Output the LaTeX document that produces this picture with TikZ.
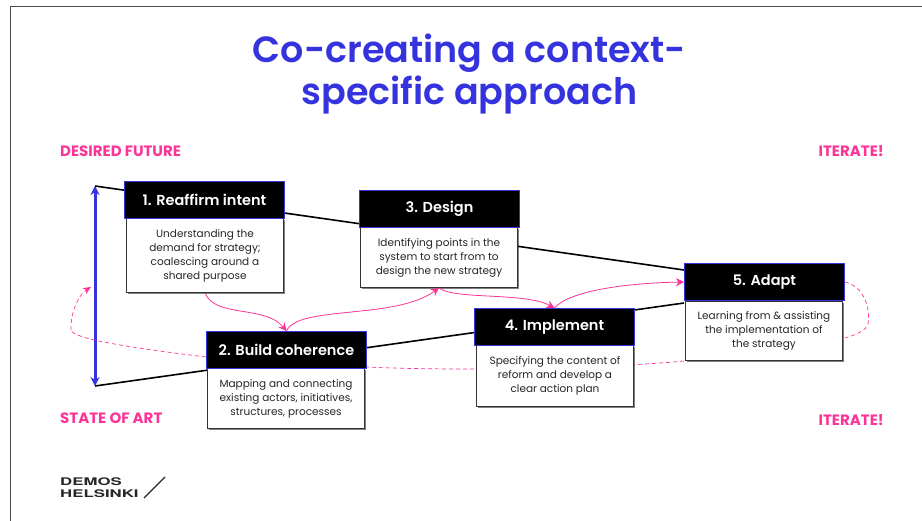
\documentclass[tikz,border=0pt]{standalone}
\usepackage{fontspec}
\setmainfont{Poppins}[BoldFont={Poppins SemiBold}]
\newfontfamily\logofont[FakeStretch=1.6]{TeX Gyre Heros}
\newfontfamily\tagfont{Poppins}[UprightFont={* Bold}]
\usetikzlibrary{arrows.meta,shadows,calc}
\definecolor{tblue}{HTML}{3533DD}
\definecolor{tpink}{HTML}{FB3497}
\tikzset{
  x=1pt,y=-1pt,
  head/.style={draw=tblue,line width=1pt,fill=black,text=white,minimum width=160pt,minimum height=37pt,inner sep=0pt,font=\fontsize{14.5}{17}\selectfont\bfseries,anchor=north west},
  body/.style={draw=black!80,line width=1pt,fill=white,text=black!85,minimum width=157pt,inner sep=0pt,align=center,font=\fontsize{10.5}{14}\selectfont,anchor=north west,drop shadow={shadow xshift=1pt,shadow yshift=-1.5pt,opacity=.5,fill=black}},
  tag/.style={text=tpink,font=\tagfont\fontsize{15}{17}\selectfont,inner sep=0pt},
  flow/.style={draw=tpink,line width=.8pt,-{Stealth[length=8pt,width=8pt]}},
  loopline/.style={draw=tpink,line width=.7pt,dash pattern=on 4pt off 3pt},
  spine/.style={draw=black,line width=1.6pt},
}
\begin{document}
\begin{tikzpicture}
\useasboundingbox (0,0) rectangle (922,521);
\fill[white] (0,0) rectangle (922,521);
\coordinate (tl) at (10,7); \coordinate (tr) at (922,7); \coordinate (bl) at (10,521);
\draw[black!70,line width=1pt] (bl) -- (tl) -- (tr);
\node[text=tblue,align=center,inner sep=0pt,font=\fontsize{36.5}{42.5}\selectfont\bfseries] (title) at (469.5,74) {Co-creating a context-\\specific approach};
\node[tag,anchor=west] (df) at (60,151) {DESIRED FUTURE};
\node[tag,anchor=west] (sa) at (60,418) {STATE OF ART};
\node[tag,anchor=east] (it1) at (884,151) {ITERATE!};
\node[tag,anchor=east] (it2) at (884,420) {ITERATE!};
\coordinate (top) at (95,186);
\coordinate (bot) at (95,386);
\coordinate (endT) at (684,270);
\coordinate (endB) at (684,303);
\draw[spine] (top) -- (endT);
\draw[spine] (bot) -- (endB);
\draw[tblue,line width=3pt,{Stealth[length=9pt,width=9pt]}-{Stealth[length=9pt,width=9pt]}] (top) -- (bot);
% dashed loops, under the boxes
\coordinate (d1) at (845,282); \coordinate (d2) at (868,324); \coordinate (d3) at (845,338);
\coordinate (d4) at (684,361); \coordinate (d5) at (206,357); \coordinate (d6) at (71,330); \coordinate (d7) at (91,287);
\draw[loopline] (d1) .. controls (862,286) and (871,305) .. (d2) .. controls (866,331) and (855,335) .. (d3);
\draw[loopline] (d4) .. controls (600,369) and (450,371) .. (366,367);
\draw[loopline] (d5) .. controls (150,350) and (72,340) .. (d6);
\draw[loopline,-{Stealth[length=8pt,width=7pt]}] (d6) .. controls (70,315) and (78,295) .. (d7);
\foreach \n/\x/\y/\bx/\by/\bh/\hh/\bt in {
 1/124/181/126/218/74/{1. Reaffirm intent}/{Understanding the\\demand for strategy;\\coalescing around a\\shared purpose},
 2/206/331/207/368/60/{2. Build coherence}/{Mapping and connecting\\existing actors, initiatives,\\structures, processes},
 3/359/190/360/227/60/{3. Design}/{Identifying points in the\\system to start from to\\design the new strategy},
 4/474/308/476/345/61/{4. Implement}/{Specifying the content of\\reform and develop a\\clear action plan},
 5/684/263/685/301/59/{5. Adapt}/{Learning from \& assisting\\the implementation of\\the strategy}}{
  \node[body,minimum height=\bh pt] (b\n) at (\bx,\by) {\bt};
  \node[head] (h\n) at (\x,\y) {\hh};
}
\draw[flow] (b1.south) .. controls (215,318) and (265,305) .. (h2.north);
\draw[flow] (h2.north) .. controls (298,305) and (395,320) .. (b3.south);
\draw[flow] (b3.south) .. controls (455,300) and (525,292) .. (h4.north);
\draw[flow] (h4.north) .. controls (570,290) and (630,283) .. (h5.west);
% logo
\node[font=\logofont\fontsize{10.5}{12.5}\selectfont\bfseries,align=left,inner sep=0pt,anchor=west,text=black!85] (logo) at (60,487.5) {DEMOS\\HELSINKI};
\coordinate (s1) at (144,498); \coordinate (s2) at (165,477);
\draw[black!85,line width=1.2pt] (s1) -- (s2);
\end{tikzpicture}
\end{document}
